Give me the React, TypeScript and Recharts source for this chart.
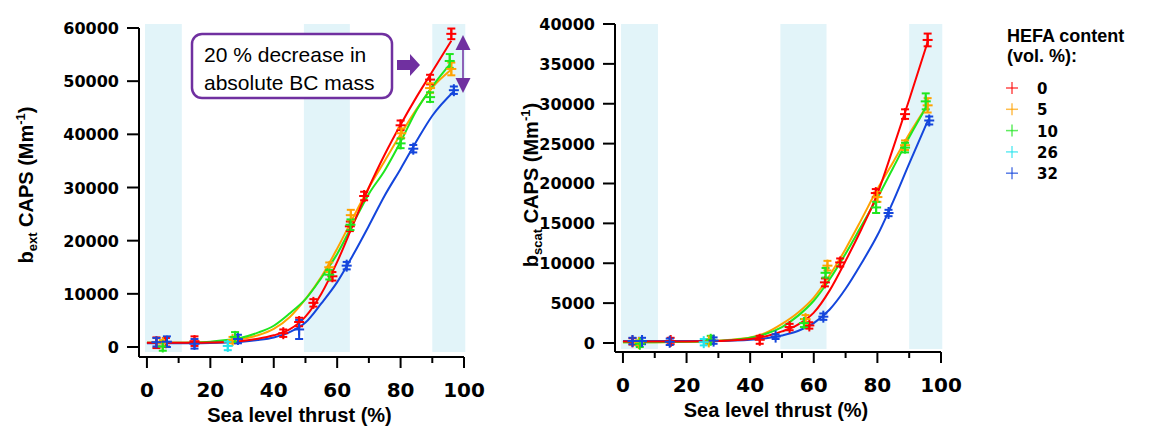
import React from 'react';
import { ComposedChart, Line, Scatter, ErrorBar, XAxis, YAxis, ReferenceArea, Label } from 'recharts';

// HEFA content levels (vol. %) and their colours
const hefaLevels = ['0', '5', '10', '26', '32'];
const colors = ['#ff0000', '#ffa200', '#1ee61e', '#22e4ee', '#1446dc'];

// shaded thrust ranges (%)
const bandRanges: [number, number][] = [[-0.6, 11], [49.5, 64], [90, 100.4]];

// measured points, b_ext panel: [thrust %, value, error]
const extRed = [[3, 800, 1000], [6, 900, 800], [15, 1100, 900], [43, 2600, 700], [48, 4700, 800], [52.5, 8300, 700], [58.5, 13300, 800], [64, 22700, 900], [68.5, 28400, 800], [80, 41700, 900], [89.3, 50300, 900], [96, 58900, 1000]];
const extOrange = [[5, 700, 600], [27, 1300, 600], [57.5, 15000, 900], [64.3, 24800, 1000], [80.2, 40200, 900], [89.3, 48700, 900], [96, 52300, 1200]];
const extGreen = [[5, 100, 800], [27.8, 1900, 900], [57.5, 13600, 900], [64.2, 23000, 1000], [80, 38300, 900], [89.3, 47000, 900], [95.5, 53800, 1300]];
const extCyan = [[25.5, 200, 800]];
const extBlue = [[3, 900, 800], [6.3, 1000, 1000], [15, 600, 900], [28.7, 1500, 800], [48, 3300, 1800], [63, 15300, 700], [84, 37300, 700], [96.8, 48300, 700]];

// fitted curves, b_ext panel: [thrust %, value]
const extRedFit = [[0, 800], [5, 800], [10, 800], [15, 800], [20, 850], [25, 950], [30, 1150], [35, 1550], [40, 2200], [45, 3300], [50, 5700], [55, 10000], [60, 16000], [65, 23000], [70, 30000], [75, 36200], [80, 41800], [85, 47000], [90, 51800], [96, 57600]];
const extOrangeFit = [[0, 800], [5, 800], [10, 800], [15, 850], [20, 950], [25, 1100], [30, 1500], [35, 2200], [40, 3400], [45, 5600], [50, 9000], [55, 13200], [60, 18500], [65, 24300], [70, 30000], [75, 35000], [80, 40000], [85, 44700], [90, 48800], [96, 52200]];
const extGreenFit = [[0, 800], [5, 800], [10, 800], [15, 850], [20, 1000], [25, 1300], [30, 1800], [35, 2700], [40, 4000], [45, 6300], [50, 9000], [55, 13000], [60, 17500], [65, 23200], [70, 28800], [75, 33200], [80, 38600], [85, 44500], [90, 49000], [96, 53500]];
const extBlueFit = [[0, 700], [5, 700], [10, 700], [15, 700], [20, 750], [25, 850], [30, 1000], [35, 1300], [40, 1800], [45, 2800], [50, 4600], [55, 8200], [60, 12200], [65, 17300], [70, 22800], [75, 28500], [80, 33500], [85, 38700], [90, 43500], [97, 48200]];

// measured points, b_scat panel
const scatRed = [[3, 200, 400], [15, 250, 400], [43, 400, 500], [52.4, 2000, 400], [58.6, 2200, 400], [63.5, 7600, 500], [68.3, 10100, 500], [79.5, 18800, 500], [88.7, 28700, 600], [95.8, 38000, 800]];
const scatOrange = [[5, 0, 300], [27, 200, 300], [57.4, 3000, 500], [64.3, 9700, 600], [80, 18300, 600], [88.7, 24800, 600], [95.8, 29800, 900]];
const scatGreen = [[5.3, -100, 400], [27.6, 400, 500], [56.9, 2500, 500], [63.7, 8800, 600], [79.6, 17000, 700], [88.7, 24500, 600], [95.2, 30300, 1000]];
const scatCyan = [[25.4, 100, 400]];
const scatBlue = [[3, 250, 400], [6, 250, 400], [14.7, 150, 400], [28.5, 300, 400], [48, 800, 300], [63, 3300, 400], [83.5, 16300, 400], [96.3, 27900, 500]];

// fitted curves, b_scat panel
const scatRedFit = [[0, 200], [10, 200], [20, 200], [30, 250], [35, 350], [40, 500], [45, 850], [50, 1450], [55, 2300], [60, 3800], [65, 6600], [70, 10300], [75, 14300], [80, 18700], [85, 24500], [90, 30500], [96, 38000]];
const scatOrangeFit = [[0, 100], [10, 100], [20, 150], [30, 300], [35, 450], [40, 700], [45, 1300], [50, 2400], [55, 3800], [60, 5700], [65, 8500], [70, 11800], [75, 15500], [80, 19300], [85, 22700], [90, 26200], [96, 30000]];
const scatGreenFit = [[0, 100], [10, 100], [20, 150], [30, 250], [35, 400], [40, 650], [45, 1150], [50, 2000], [55, 3400], [60, 5300], [65, 8000], [70, 11200], [75, 14700], [80, 18200], [85, 22000], [90, 25800], [96, 30000]];
const scatBlueFit = [[0, 250], [10, 250], [20, 250], [30, 250], [35, 300], [40, 400], [45, 600], [50, 950], [55, 1500], [60, 2500], [65, 4200], [70, 6800], [75, 10000], [80, 13500], [85, 17800], [90, 22500], [96, 28000]];

const xTicks = [0, 10, 20, 30, 40, 50, 60, 70, 80, 90, 100];
const extTicks = [0, 10000, 20000, 30000, 40000, 50000, 60000];
const scatTicks = [0, 5000, 10000, 15000, 20000, 25000, 30000, 35000, 40000];

const toPts = (rows: number[][]) => rows.map(([x, y, err]) => ({ x, y, err }));
const toFit = (rows: number[][]) => rows.map(([x, y]) => ({ x, y }));

const tickFont = 'DejaVu Sans, sans-serif';
const labelFont = 'Liberation Sans, Arial, sans-serif';

const XTick = (props: any) => {
  const { x, y, payload } = props;
  const major = payload.value % 20 === 0;
  return (
    <g>
      <line x1={x} x2={x} y1={y} y2={y + (major ? 11 : 6)} stroke="#000" strokeWidth={2} />
      {major && (
        <text x={x} y={y + 40} textAnchor="middle" fontFamily={tickFont} fontWeight="bold" fontSize={20} fill="#000">
          {payload.value}
        </text>
      )}
    </g>
  );
};

const YTick = (props: any) => {
  const { x, y, payload } = props;
  return (
    <g>
      <line x1={x - 12} x2={x} y1={y} y2={y} stroke="#000" strokeWidth={2} />
      <text x={x - 20} y={y + 6} textAnchor="end" fontFamily={tickFont} fontWeight="bold" fontSize={16} fill="#000">
        {payload.value}
      </text>
    </g>
  );
};

const crossShape = (color: string) => (props: any) => {
  const { cx, cy } = props;
  return (
    <g>
      <line x1={cx - 5} x2={cx + 5} y1={cy} y2={cy} stroke={color} strokeWidth={2} />
      <line x1={cx} x2={cx} y1={cy - 6} y2={cy + 6} stroke={color} strokeWidth={2} />
    </g>
  );
};

function Panel(props: {
  left: number; width: number; top: number; yAxisWidth: number; rightMargin: number; xAxisHeight: number;
  yDomain: [number, number]; yTicks: number[]; bandY: [number, number];
  points: number[][][]; fits: number[][][]; sub: string; labelOffset: number;
}) {
  const { left, width, top, yAxisWidth, rightMargin, xAxisHeight, yDomain, yTicks, bandY, points, fits, sub, labelOffset } = props;
  const fitOrder = [1, 2, 3, 0];
  return (
    <div style={{ position: 'absolute', left, top: 0 }}>
      <ComposedChart width={width} height={427} margin={{ top, right: rightMargin, bottom: 0, left: 0 }}>
        <XAxis
          dataKey="x" type="number" domain={[-2.5, 100]} ticks={xTicks} interval={0} allowDataOverflow
          height={xAxisHeight} tickSize={0} tickMargin={0} tick={<XTick />} axisLine={{ stroke: '#000', strokeWidth: 2 }}
        >
          <Label
            content={(p: any) => {
              const vb = p.viewBox;
              return (
                <text x={vb.x + vb.width / 2 - 2} y={vb.y + 65} textAnchor="middle" fontFamily={labelFont} fontWeight="bold" fontSize={20} fill="#000">
                  Sea level thrust (%)
                </text>
              );
            }}
          />
        </XAxis>
        <YAxis
          dataKey="y" type="number" domain={yDomain} ticks={yTicks} interval={0} allowDataOverflow
          width={yAxisWidth} tickSize={0} tickMargin={0} tick={<YTick />} axisLine={{ stroke: '#000', strokeWidth: 2 }}
        >
          <Label
            content={(p: any) => {
              const vb = p.viewBox;
              const cx = vb.x + vb.width - labelOffset;
              const cy = 185;
              return (
                <text x={cx} y={cy} transform={`rotate(-90 ${cx} ${cy})`} textAnchor="middle" fontFamily={labelFont} fontWeight="bold" fontSize={20} fill="#000">
                  b<tspan fontSize={13} dy={4}>{sub}</tspan>
                  <tspan dy={-4}> CAPS (Mm</tspan>
                  <tspan fontSize={13} dy={-8}>-1</tspan>
                  <tspan dy={8}>)</tspan>
                </text>
              );
            }}
          />
        </YAxis>
        {bandRanges.map(([a, b], i) => (
          <ReferenceArea key={i} x1={a} x2={b} y1={bandY[0]} y2={bandY[1]} fill="#e2f4f9" fillOpacity={1} stroke="none" ifOverflow="visible" />
        ))}
        {fitOrder.map((s) => (
          <Line
            key={'f' + s} data={toFit(fits[s])} dataKey="y" type="monotone" stroke={colors[s === 3 ? 4 : s]}
            strokeWidth={2} dot={false} activeDot={false} isAnimationActive={false}
          />
        ))}
        {points.map((rows, s) => (
          <Scatter key={'p' + s} data={toPts(rows)} dataKey="y" shape={crossShape(colors[s])} isAnimationActive={false}>
            <ErrorBar dataKey="err" direction="y" width={4} stroke={colors[s]} strokeWidth={2} isAnimationActive={false} />
          </Scatter>
        ))}
      </ComposedChart>
    </div>
  );
}

function Overlay() {
  const purple = '#7030a0';
  return (
    <svg width={1153} height={427} style={{ position: 'absolute', left: 0, top: 0, pointerEvents: 'none' }}>
      <rect x={192} y={34} width={200} height={64} rx={10} ry={10} fill="#fff" stroke={purple} strokeWidth={2.5} />
      <text x={204} y={62} fontFamily={labelFont} fontSize={21} fill="#000">20 % decrease in</text>
      <text x={204} y={90} fontFamily={labelFont} fontSize={21} fill="#000">absolute BC mass</text>
      <polygon points="397,60 410,60 410,54 420,65 410,76 410,70 397,70" fill={purple} />
      <polygon points="463,35 455.5,50 470.5,50" fill={purple} />
      <line x1={463} x2={463} y1={50} y2={78} stroke={purple} strokeWidth={1.5} />
      <polygon points="455.5,78 470.5,78 463,93" fill={purple} />
      <text x={1007} y={42} fontFamily={labelFont} fontWeight="bold" fontSize={18} fill="#000">HEFA content</text>
      <text x={1007} y={62} fontFamily={labelFont} fontWeight="bold" fontSize={18} fill="#000">(vol. %):</text>
      {hefaLevels.map((lv, i) => {
        const cy = 88 + i * 21.3;
        return (
          <g key={lv}>
            <line x1={1006} x2={1018} y1={cy} y2={cy} stroke={colors[i]} strokeWidth={1.5} opacity={0.7} />
            <line x1={1012} x2={1012} y1={cy - 6} y2={cy + 6} stroke={colors[i]} strokeWidth={1.5} opacity={0.7} />
            <text x={1037} y={cy + 6} fontFamily={tickFont} fontWeight="bold" fontSize={15} fill="#000">{lv}</text>
          </g>
        );
      })}
    </svg>
  );
}

export default function App() {
  return (
    <div style={{ position: 'absolute', left: 0, top: 0, width: 1153, height: 427, background: '#fff' }}>
      <Panel
        left={0} width={500} top={28} yAxisWidth={139} rightMargin={36} xAxisHeight={70}
        yDomain={[-1880, 60000]} yTicks={extTicks} bandY={[-940, 60750]}
        points={[extRed, extOrange, extGreen, extCyan, extBlue]}
        fits={[extRedFit, extOrangeFit, extGreenFit, extBlueFit]}
        sub="ext" labelOffset={106}
      />
      <Panel
        left={480} width={500} top={24} yAxisWidth={135} rightMargin={39} xAxisHeight={75}
        yDomain={[-1130, 40000]} yTicks={scatTicks} bandY={[-750, 40000]}
        points={[scatRed, scatOrange, scatGreen, scatCyan, scatBlue]}
        fits={[scatRedFit, scatOrangeFit, scatGreenFit, scatBlueFit]}
        sub="scat" labelOffset={77}
      />
      <Overlay />
    </div>
  );
}
